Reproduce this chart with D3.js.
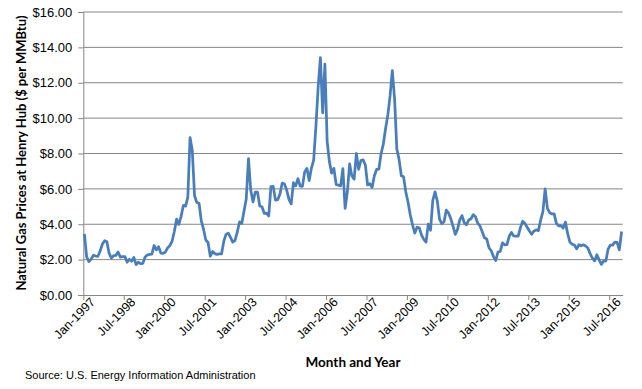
<!DOCTYPE html>
<html>
<head>
<meta charset="utf-8">
<script src="https://cdn.jsdelivr.net/npm/d3@7"></script>
<style>
  body { margin: 0; background: #fff; }
  svg { font-family: Lato, "Liberation Sans", sans-serif; }
  .tick text { fill: #000; }
</style>
</head>
<body>
<svg id="chart" width="642" height="389"></svg>
<script>
// Henry Hub monthly spot price, Jan-1997 .. Dec-2016 ($/MMBtu)
const startYear = 1997;
const prices = [
  3.45, 2.15, 1.89, 2.03, 2.25, 2.20, 2.19, 2.49, 2.88, 3.07, 3.01, 2.35,
  2.09, 2.23, 2.24, 2.43, 2.14, 2.17, 2.17, 1.85, 2.02, 1.91, 2.12, 1.72,
  1.85, 1.77, 1.79, 2.15, 2.26, 2.30, 2.31, 2.80, 2.55, 2.73, 2.37, 2.36,
  2.42, 2.66, 2.79, 3.04, 3.59, 4.29, 3.99, 4.43, 5.06, 5.02, 5.52, 8.90,
  8.17, 5.61, 5.23, 5.19, 4.19, 3.72, 3.11, 2.97, 2.19, 2.46, 2.34, 2.30,
  2.32, 2.32, 3.03, 3.43, 3.50, 3.26, 2.99, 3.09, 3.55, 4.13, 4.04, 4.74,
  5.43, 7.71, 5.93, 5.26, 5.81, 5.82, 5.03, 4.99, 4.62, 4.63, 4.47, 6.13,
  6.14, 5.37, 5.39, 5.71, 6.33, 6.27, 5.93, 5.41, 5.15, 6.35, 6.17, 6.58,
  6.15, 6.14, 6.96, 7.16, 6.47, 7.18, 7.63, 9.53, 11.75, 13.42, 10.30, 13.05,
  8.69, 7.54, 6.89, 7.16, 6.25, 6.21, 6.17, 7.14, 4.90, 5.85, 7.41, 6.73,
  6.55, 8.00, 7.11, 7.60, 7.64, 7.35, 6.22, 6.29, 6.08, 6.74, 7.10, 7.11,
  7.99, 8.54, 9.41, 10.18, 11.27, 12.69, 11.09, 8.26, 7.67, 6.74, 6.68, 5.82,
  5.24, 4.52, 3.96, 3.50, 3.83, 3.80, 3.38, 3.14, 2.99, 4.01, 3.66, 5.35,
  5.83, 5.32, 4.29, 4.03, 4.14, 4.80, 4.63, 4.32, 3.89, 3.43, 3.71, 4.25,
  4.49, 4.09, 3.97, 4.24, 4.31, 4.54, 4.42, 4.06, 3.90, 3.57, 3.24, 3.17,
  2.67, 2.50, 2.17, 1.95, 2.43, 2.46, 2.95, 2.84, 2.85, 3.32, 3.54, 3.34,
  3.33, 3.33, 3.81, 4.17, 4.04, 3.83, 3.62, 3.43, 3.62, 3.68, 3.64, 4.24,
  4.71, 6.00, 4.90, 4.66, 4.58, 4.59, 4.05, 3.91, 3.92, 3.78, 4.12, 3.48,
  2.99, 2.87, 2.83, 2.61, 2.85, 2.78, 2.84, 2.77, 2.66, 2.34, 2.09, 1.93,
  2.28, 1.99, 1.73, 1.92, 1.92, 2.59, 2.82, 2.82, 2.99, 2.98, 2.55, 3.59
];
const monthNames = ["Jan","Feb","Mar","Apr","May","Jun","Jul","Aug","Sep","Oct","Nov","Dec"];
const tickMonths = d3.range(0, 240, 18);   // Jan-1997, Jul-1998, ... Jul-2016
const yTicks = [0, 2, 4, 6, 8, 10, 12, 14, 16];

const svg = d3.select('#chart');
const margin = { top: 12, left: 83.3, right: 19.3, bottom: 94 };
const width = 642, height = 389;
const innerW = width - margin.left - margin.right;
const innerH = height - margin.top - margin.bottom;

const xScale = d3.scaleLinear().domain([0, prices.length]).range([0, innerW]);
const yScale = d3.scaleLinear().domain([0, 16]).range([innerH, 0]);

const g = svg.append('g').attr('transform', `translate(${margin.left},${margin.top})`);

// gridlines + y axis
const yAxis = d3.axisLeft(yScale).tickValues(yTicks)
    .tickFormat(d => '$' + d3.format('.2f')(d))
    .tickSize(5).tickPadding(6);
const gy = g.append('g').call(yAxis);
gy.select('.domain').attr('stroke', '#868686');
gy.selectAll('.tick line').attr('stroke', '#868686');
gy.selectAll('.tick text').style('font-size', '13px');
g.append('g').selectAll('line').data(yTicks.filter(d => d > 0)).enter().append('line')
    .attr('x1', 0).attr('x2', innerW)
    .attr('y1', d => yScale(d)).attr('y2', d => yScale(d))
    .attr('stroke', '#868686').attr('stroke-width', 1);

// x axis
const label = i => monthNames[i % 12] + '-' + (startYear + Math.floor(i / 12));
const xAxis = d3.axisBottom(xScale).tickValues(tickMonths)
    .tickFormat(label).tickSize(5).tickSizeOuter(0);
const gx = g.append('g').attr('transform', `translate(0,${innerH})`).call(xAxis);
gx.select('.domain').attr('stroke', '#868686');
gx.selectAll('.tick line').attr('stroke', '#868686');
gx.selectAll('.tick text')
    .style('font-size', '12.5px')
    .style('text-anchor', 'end')
    .attr('dx', '3px').attr('dy', '6px')
    .attr('transform', 'rotate(-45)');

// line
const line = d3.line()
    .x((d, i) => xScale(i + 0.5))
    .y(d => yScale(d));
g.append('path').datum(prices)
    .attr('fill', 'none')
    .attr('stroke', '#4a7ebb')
    .attr('stroke-width', 2.75)
    .attr('stroke-linejoin', 'round')
    .attr('d', line);

// titles
svg.append('text')
    .attr('transform', `translate(26,153) rotate(-90)`)
    .attr('text-anchor', 'middle')
    .style('font-size', '13px').style('font-weight', 'bold')
    .text('Natural Gas Prices at Henry Hub ($ per MMBtu)');
svg.append('text')
    .attr('x', 353).attr('y', 367)
    .attr('text-anchor', 'middle')
    .style('font-size', '13.5px').style('font-weight', 'bold')
    .text('Month and Year');
svg.append('text')
    .attr('x', 25).attr('y', 379)
    .style('font-family', '"Liberation Sans", Arial, sans-serif')
    .style('font-size', '11px')
    .text('Source: U.S. Energy Information Administration');
</script>
</body>
</html>
